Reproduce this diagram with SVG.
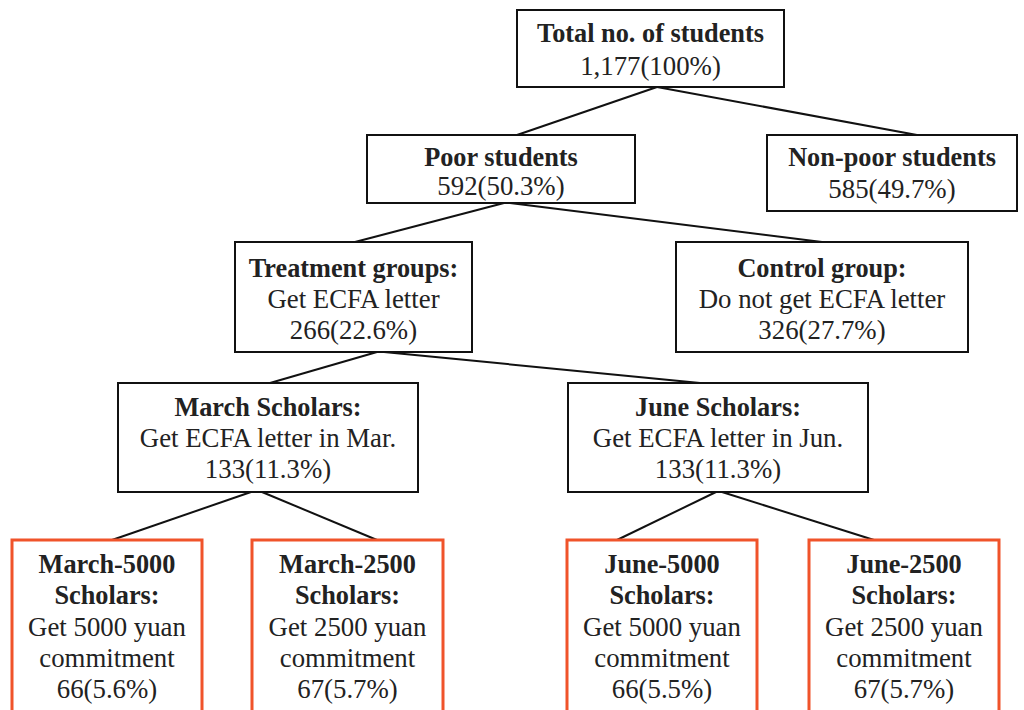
<svg xmlns="http://www.w3.org/2000/svg" width="1024" height="710" viewBox="0 0 1024 710">
<style>
.box{fill:#fff;stroke:#111;stroke-width:2}
.obox{fill:#fff;stroke:#F0532A;stroke-width:3}
text{font-family:"Liberation Serif","Times New Roman",serif;font-size:26.8px;fill:#222;text-anchor:middle}
.b{font-weight:bold;font-size:26.3px}
.conn line{stroke:#111;stroke-width:2}
</style>
<rect width="1024" height="710" fill="#fff"/>
<g class="conn" id="connectors">
<line x1="657" y1="87" x2="517" y2="135"/>
<line x1="657" y1="87" x2="917" y2="135"/>
<line x1="504" y1="203" x2="355" y2="242"/>
<line x1="510" y1="203" x2="822" y2="242"/>
<line x1="377" y1="352" x2="270" y2="383"/>
<line x1="384" y1="352" x2="700" y2="383"/>
<line x1="251" y1="492" x2="112" y2="540"/>
<line x1="262" y1="492" x2="377" y2="540"/>
<line x1="716" y1="492" x2="617" y2="540"/>
<line x1="722" y1="492" x2="874" y2="540"/>
</g>
<g id="total">
<rect class="box" x="517" y="10" width="267" height="77"/>
<text x="650.5" y="42" class="b">Total no. of students</text>
<text x="650.5" y="75">1,177(100%)</text>
</g>
<g id="poor">
<rect class="box" x="367" y="135" width="268" height="68"/>
<text x="501" y="166" class="b">Poor students</text>
<text x="501" y="195">592(50.3%)</text>
</g>
<g id="nonpoor">
<rect class="box" x="767" y="135" width="250" height="76"/>
<text x="892" y="166" class="b">Non-poor students</text>
<text x="892" y="198">585(49.7%)</text>
</g>
<g id="treatment">
<rect class="box" x="235" y="242" width="237" height="110"/>
<text x="353.5" y="277" class="b">Treatment groups:</text>
<text x="353.5" y="308">Get ECFA letter</text>
<text x="353.5" y="339">266(22.6%)</text>
</g>
<g id="control">
<rect class="box" x="676" y="242" width="292" height="110"/>
<text x="822" y="277" class="b">Control group:</text>
<text x="822" y="308">Do not get ECFA letter</text>
<text x="822" y="339">326(27.7%)</text>
</g>
<g id="march">
<rect class="box" x="118" y="383" width="300" height="109"/>
<text x="268" y="416" class="b">March Scholars:</text>
<text x="268" y="447">Get ECFA letter in Mar.</text>
<text x="268" y="478">133(11.3%)</text>
</g>
<g id="june">
<rect class="box" x="568" y="383" width="300" height="109"/>
<text x="718" y="416" class="b">June Scholars:</text>
<text x="718" y="447">Get ECFA letter in Jun.</text>
<text x="718" y="478">133(11.3%)</text>
</g>
<g id="march5000">
<rect class="obox" x="12" y="540" width="190" height="190"/>
<text x="107" y="573" class="b">March-5000</text>
<text x="107" y="604" class="b">Scholars:</text>
<text x="107" y="636">Get 5000 yuan</text>
<text x="107" y="667">commitment</text>
<text x="107" y="698">66(5.6%)</text>
</g>
<g id="march2500">
<rect class="obox" x="252" y="540" width="191" height="190"/>
<text x="347.5" y="573" class="b">March-2500</text>
<text x="347.5" y="604" class="b">Scholars:</text>
<text x="347.5" y="636">Get 2500 yuan</text>
<text x="347.5" y="667">commitment</text>
<text x="347.5" y="698">67(5.7%)</text>
</g>
<g id="june5000">
<rect class="obox" x="567" y="540" width="190" height="190"/>
<text x="662" y="573" class="b">June-5000</text>
<text x="662" y="604" class="b">Scholars:</text>
<text x="662" y="636">Get 5000 yuan</text>
<text x="662" y="667">commitment</text>
<text x="662" y="698">66(5.5%)</text>
</g>
<g id="june2500">
<rect class="obox" x="809" y="540" width="190" height="190"/>
<text x="904" y="573" class="b">June-2500</text>
<text x="904" y="604" class="b">Scholars:</text>
<text x="904" y="636">Get 2500 yuan</text>
<text x="904" y="667">commitment</text>
<text x="904" y="698">67(5.7%)</text>
</g>
</svg>
